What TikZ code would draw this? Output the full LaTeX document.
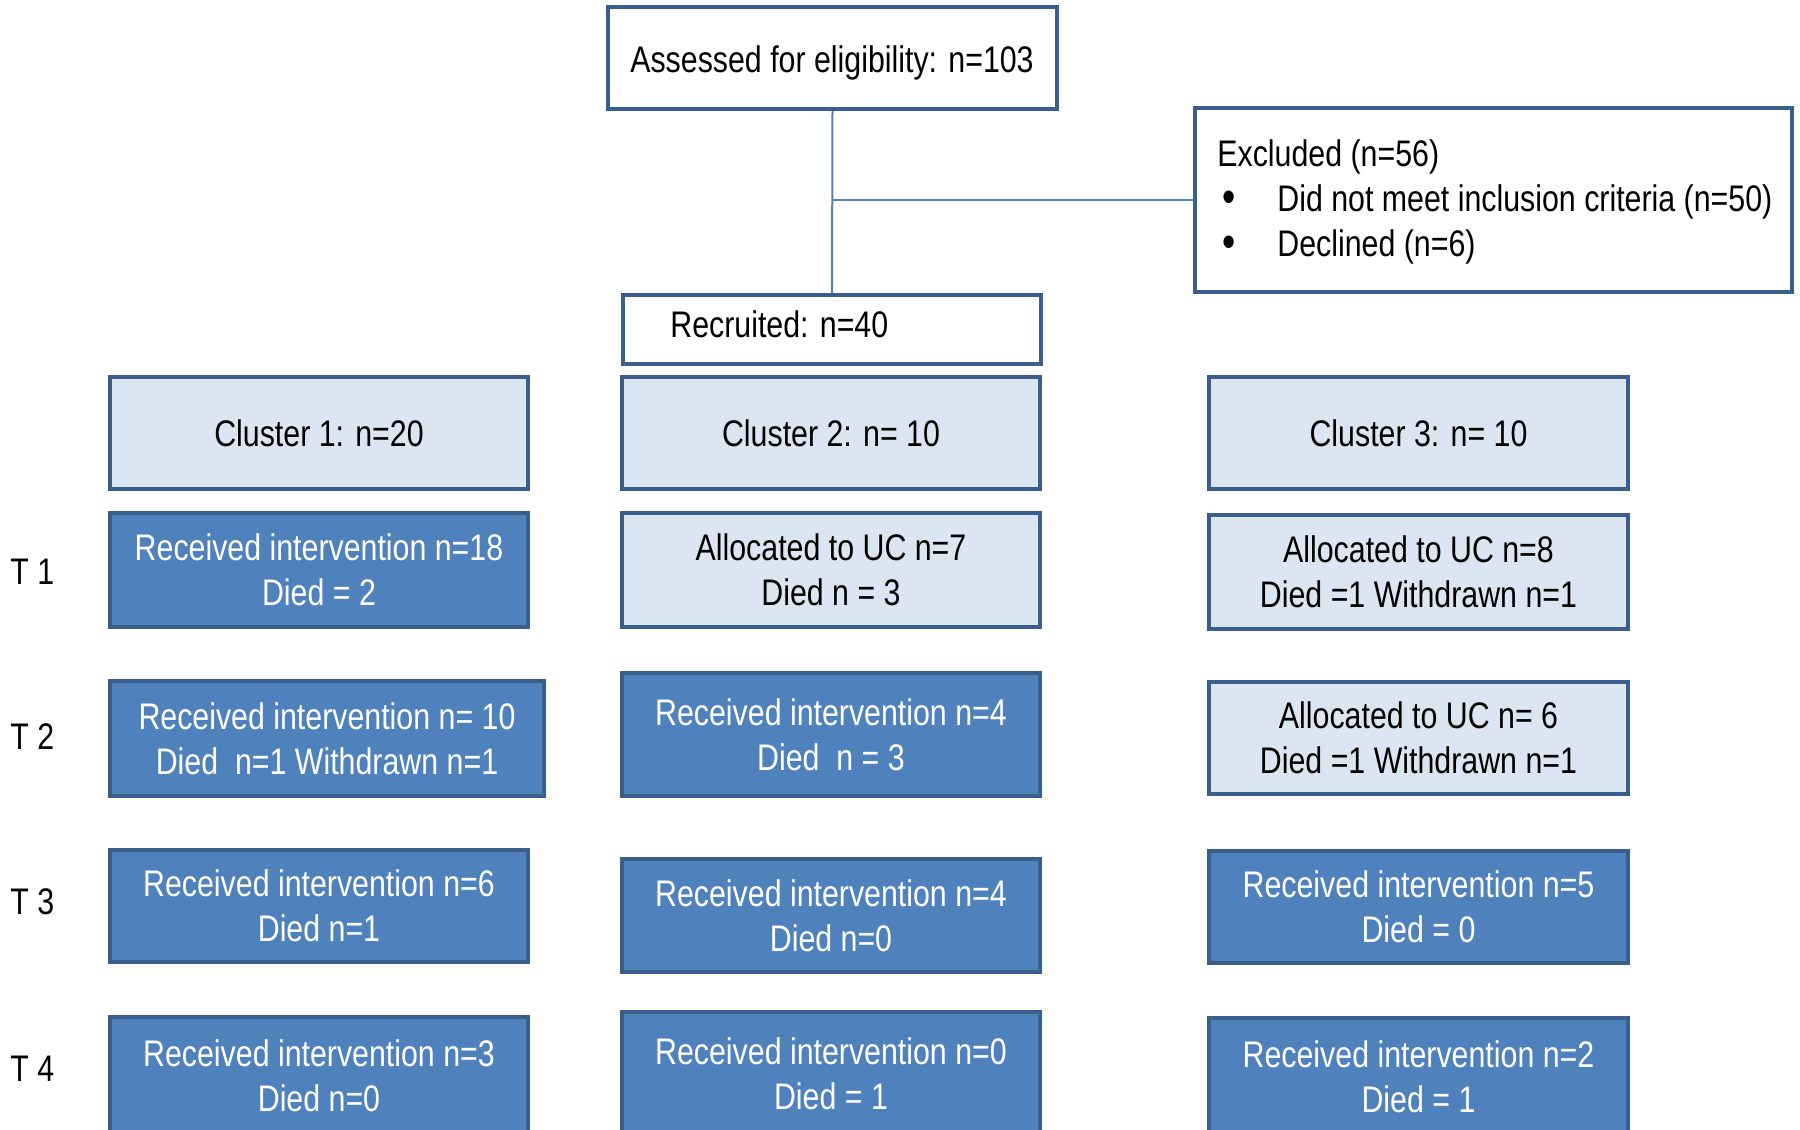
\documentclass[tikz,border=0pt]{standalone}
\usepackage{fontspec}
\setmainfont[FakeStretch=0.82]{Liberation Sans}
\definecolor{dk}{HTML}{4F81BD}
\definecolor{bd}{HTML}{3A5F8D}
\definecolor{lt}{HTML}{DCE6F2}
\newcommand{\bigbul}{\hspace*{2.5pt}\makebox[27.5pt][l]{\raisebox{-0.6pt}{\fontsize{23}{22.5}\selectfont•}}}
\begin{document}
\begin{tikzpicture}[x=0.5pt,y=-0.5pt,
  wh/.style 2 args={minimum width=#1*0.5pt, minimum height=#2*0.5pt},
  base/.style={draw=bd, line width=2pt, inner sep=0pt, align=center,
    font=\fontsize{18.5}{22.5}\selectfont},
  whitebox/.style={base, fill=white, text=black},
  lightbox/.style={base, fill=lt, text=black},
  darkbox/.style={base, fill=dk, text=white},
  conn/.style={draw=dk, line width=1pt},
  tlab/.style={anchor=west, inner sep=0pt, font=\fontsize{18.5}{22.5}\selectfont},
  plain/.style={inner sep=0pt, font=\fontsize{18.5}{22.5}\selectfont}]
\useasboundingbox (0,0) rectangle (1800,1130);
\clip (0,0) rectangle (1800,1130);

% top part
\node[whitebox, wh={449}{102}] (assess) at (832.5,58) {};
\node[plain] (assesstxt) at (832,63) {Assessed for eligibility: n=103};
\node[whitebox, wh={597}{184}] (excl) at (1493.5,200) {};
\node[plain, anchor=west, align=left] (excltxt) at ([xshift=12pt,yshift=-1pt]excl.west)
  {Excluded (n=56)\\
   \bigbul Did not meet inclusion criteria (n=50)\\
   \bigbul Declined (n=6)};
\node[whitebox, wh={418}{69}] (recr) at (832,329.5) {};
\node[plain, anchor=west] (recrtxt) at (670,324.5) {Recruited: n=40};

\coordinate (j) at (assess.south |- excl.west);
\draw[conn] (assess.south) -- (recr.north);
\draw[conn] (j) -- (excl.west);

% clusters
\node[lightbox, wh={418}{112}] (c1) at (319,433) {Cluster 1: n=20};
\node[lightbox, wh={418}{112}] (c2) at (831,433) {Cluster 2: n= 10};
\node[lightbox, wh={419}{112}] (c3) at (1418.5,433) {Cluster 3: n= 10};

% T1
\node[darkbox, wh={418}{114}] (a1) at (319,570) {Received intervention n=18\\Died = 2};
\node[lightbox, wh={418}{114}] (b1) at (831,570) {Allocated to UC n=7\\Died n = 3};
\node[lightbox, wh={419}{114}] (d1) at (1418.5,572) {Allocated to UC n=8\\Died =1 Withdrawn n=1};

% T2
\node[darkbox, wh={434}{115}] (a2) at (327,738.5) {Received intervention n= 10\\Died\ \ n=1 Withdrawn n=1};
\node[darkbox, wh={418}{123}] (b2) at (831,734.5) {Received intervention n=4\\Died\ \ n = 3};
\node[lightbox, wh={419}{112}] (d2) at (1418.5,738) {Allocated to UC n= 6\\Died =1 Withdrawn n=1};

% T3
\node[darkbox, wh={418}{112}] (a3) at (319,906) {Received intervention n=6\\Died n=1};
\node[darkbox, wh={418}{113}] (b3) at (831,915.5) {Received intervention n=4\\Died n=0};
\node[darkbox, wh={419}{112}] (d3) at (1418.5,907) {Received intervention n=5\\Died = 0};

% T4
\node[darkbox, wh={418}{118}] (a4) at (319,1076) {Received intervention n=3\\Died n=0};
\node[darkbox, wh={418}{123}] (b4) at (831,1073.5) {Received intervention n=0\\Died = 1};
\node[darkbox, wh={419}{117}] (d4) at (1418.5,1076.5) {Received intervention n=2\\Died = 1};

% time labels
\node[tlab] (t1) at (10,572) {T 1};
\node[tlab] (t2) at (10,737) {T 2};
\node[tlab] (t3) at (10,902) {T 3};
\node[tlab] (t4) at (10,1069) {T 4};
\end{tikzpicture}
\end{document}
